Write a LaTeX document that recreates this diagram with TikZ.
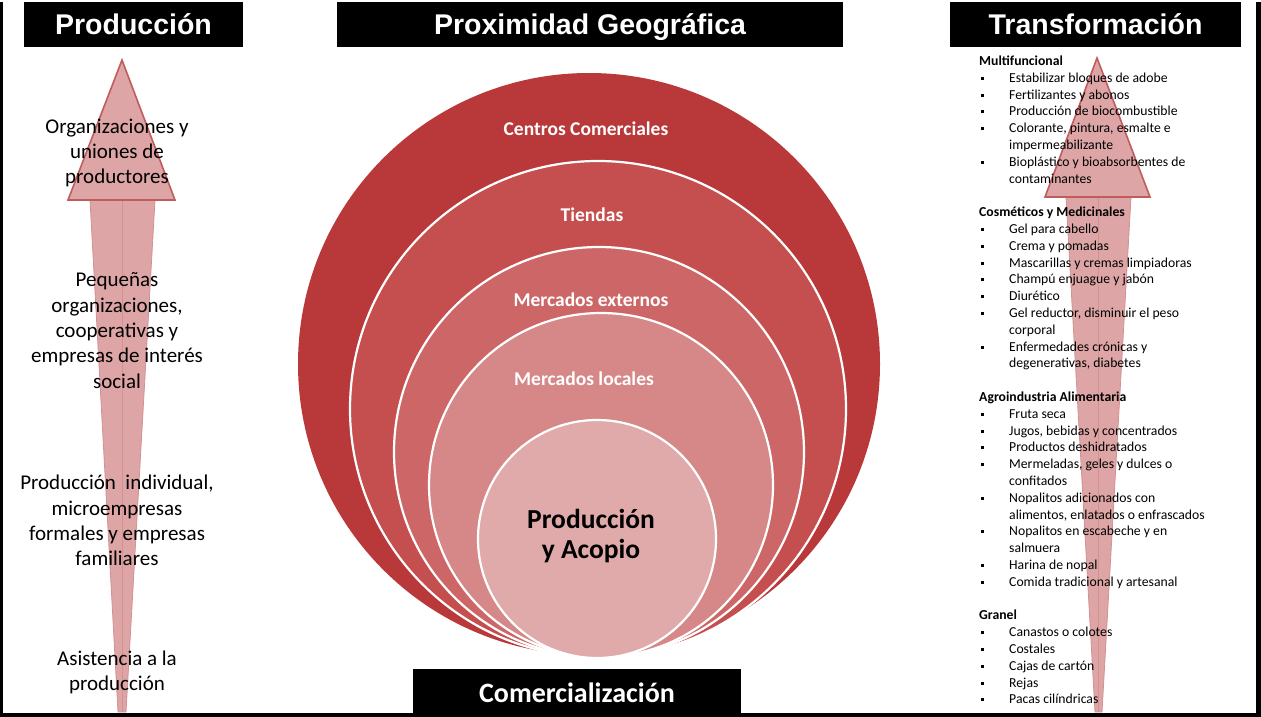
\documentclass[tikz,border=0pt]{standalone}
\usepackage{fontspec}
\setmainfont{Carlito}
\newfontfamily\arialf{Liberation Sans}
\definecolor{cA}{RGB}{185,56,58}
\definecolor{cB}{RGB}{197,78,78}
\definecolor{cC}{RGB}{205,103,103}
\definecolor{cD}{RGB}{214,135,135}
\definecolor{cE}{RGB}{224,170,170}
\definecolor{arrfill}{RGB}{221,165,165}
\definecolor{arredge}{RGB}{192,92,92}
\definecolor{shaftedge}{RGB}{212,145,145}
\newcommand{\bul}{\makebox[30pt][l]{\hspace{2pt}\rule[2.6pt]{2.8pt}{3pt}}}
\newcommand{\ind}{\hspace*{30pt}}
\begin{document}
\begin{tikzpicture}[x=1pt,y=-1pt,
  tbox/.style={fill=black,text=white,inner sep=0pt,outer sep=0pt,minimum height=45pt,text height=26pt,text depth=5pt,font=\arialf\fontsize{28.5}{30}\bfseries\selectfont},
  cbox/.style={fill=black,text=white,inner sep=0pt,outer sep=0pt,minimum height=44pt,text height=27pt,text depth=5pt,font=\fontsize{28}{30}\bfseries\selectfont},
  ring/.style={circle,draw=white,line width=2.2pt,inner sep=0pt,outer sep=0pt},
  clbl/.style={text=white,font=\fontsize{19.5}{22}\bfseries\selectfont,inner sep=0pt},
  ltxt/.style={align=center,font=\fontsize{21}{25.3}\selectfont,inner sep=0pt},
  rtxt/.style={anchor=base west,inner sep=0pt,font=\fontsize{13.7}{16.8}\selectfont}
]
\useasboundingbox (0,0) rectangle (1261,717);
% frame
\fill[black] (0,2) rectangle (3,717);
\fill[black] (1256,2) rectangle (1261,717);
\fill[black] (0,713) rectangle (1261,717);

% left arrow
\fill[arrfill,draw=shaftedge,line width=0.8pt] (90,200) -- (155,200) -- (126,712) -- (118,712) -- cycle;
\draw[shaftedge,line width=1pt] (122,200) -- (122,712);
\fill[arrfill,draw=arredge,line width=1.6pt,line join=miter] (122,60) -- (175,200) -- (68,200) -- cycle;
% right arrow
\fill[arrfill,draw=shaftedge,line width=0.8pt] (1066,197) -- (1131,197) -- (1102,712) -- (1095,712) -- cycle;
\draw[shaftedge,line width=1pt] (1098,197) -- (1098,712);
\fill[arrfill,draw=arredge,line width=1.6pt,line join=miter] (1097,58) -- (1150,197) -- (1045,197) -- cycle;

% circles
\node[circle,fill=cA,inner sep=0pt,outer sep=0pt,minimum size=582pt] (k1) at (589,364) {};
\node[ring,fill=cB,minimum size=496pt] (k2) at (598,409) {};
\node[ring,fill=cC,minimum size=410pt] (k3) at (599,452) {};
\node[ring,fill=cD,minimum size=344pt] (k4) at (601,485) {};
\node[ring,fill=cE,minimum size=238pt] (k5) at (597,539) {};
\node[clbl] (l1) at (586,129) {Centros Comerciales};
\node[clbl] (l2) at (592,215) {Tiendas};
\node[clbl] (l3) at (591,300) {Mercados externos};
\node[clbl] (l4) at (584,379) {Mercados locales};
\node[align=center,inner sep=0pt,font=\fontsize{27.5}{29.5}\bfseries\selectfont] (l5) at (591,536) {Producción\\y Acopio};

% titles
\node[tbox,minimum width=219pt] (t1) at (133.5,24.5) {Producción};
\node[tbox,minimum width=506pt] (t2) at (590,24.5) {Proximidad Geográfica};
\node[tbox,minimum width=291pt] (t3) at (1095.5,24.5) {Transformación};
\node[cbox,minimum width=328pt] (t4) at (577,691) {Comercialización};

% left texts
\node[ltxt] (p1) at (117,153) {Organizaciones y\\uniones de\\productores};
\node[ltxt] (p2) at (117,330.5) {Pequeñas\\organizaciones,\\cooperativas y\\empresas de interés\\social};
\node[ltxt] (p3) at (117,520.5) {Producción\ \ individual,\\microempresas\\formales y empresas\\familiares};
\node[ltxt] (p4) at (117,672.5) {Asistencia a la\\producción};

% right texts
\foreach \i/\t in {
 0/{\textbf{Multifuncional}},
 1/{\bul Estabilizar bloques de adobe},
 2/{\bul Fertilizantes y abonos},
 3/{\bul Producción de biocombustible},
 4/{\bul Colorante, pintura, esmalte e},
 5/{\ind impermeabilizante},
 6/{\bul Bioplástico y bioabsorbentes de},
 7/{\ind contaminantes},
 9/{\textbf{Cosméticos y Medicinales}},
 10/{\bul Gel para cabello},
 11/{\bul Crema y pomadas},
 12/{\bul Mascarillas y cremas limpiadoras},
 13/{\bul Champú enjuague y jabón},
 14/{\bul Diurético},
 15/{\bul Gel reductor, disminuir el peso},
 16/{\ind corporal},
 17/{\bul Enfermedades crónicas y},
 18/{\ind degenerativas, diabetes},
 20/{\textbf{Agroindustria Alimentaria}},
 21/{\bul Fruta seca},
 22/{\bul Jugos, bebidas y concentrados},
 23/{\bul Productos deshidratados},
 24/{\bul Mermeladas, geles y dulces o},
 25/{\ind confitados},
 26/{\bul Nopalitos adicionados con},
 27/{\ind alimentos, enlatados o enfrascados},
 28/{\bul Nopalitos en escabeche y en},
 29/{\ind salmuera},
 30/{\bul Harina de nopal},
 31/{\bul Comida tradicional y artesanal},
 33/{\textbf{Granel}},
 34/{\bul Canastos o colotes},
 35/{\bul Costales},
 36/{\bul Cajas de cartón},
 37/{\bul Rejas},
 38/{\bul Pacas cilíndricas}}
 \node[rtxt] (r\i) at (979,{65.5+16.8*\i}) {\t};
\end{tikzpicture}
\end{document}
